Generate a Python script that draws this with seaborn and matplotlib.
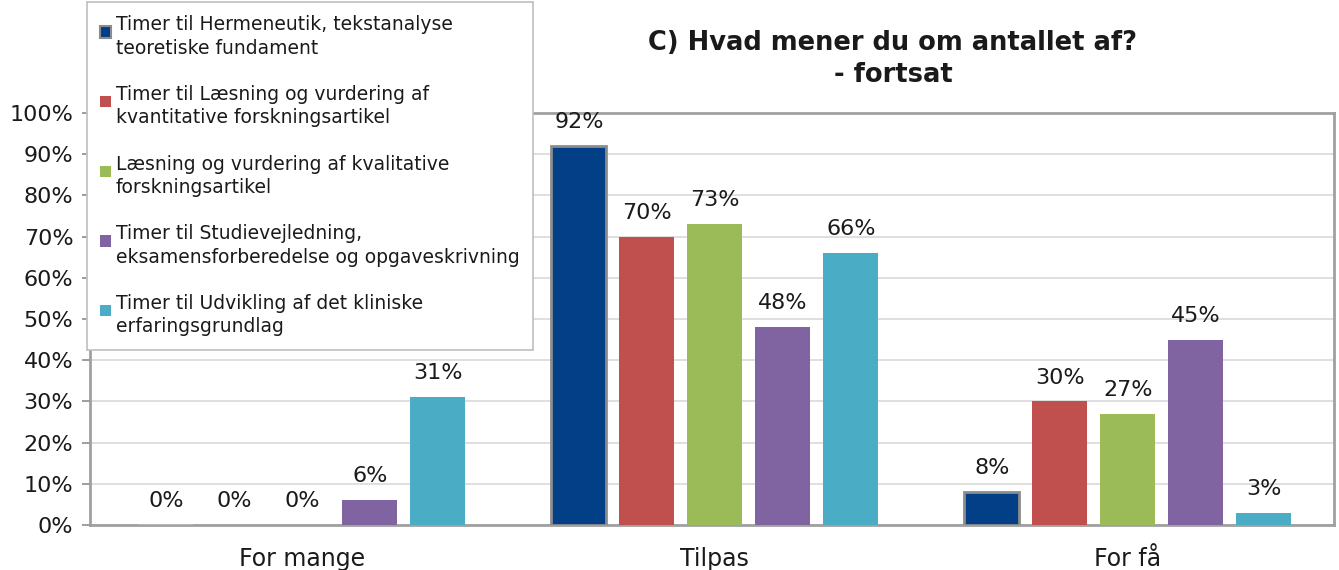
import matplotlib
matplotlib.use("Agg")
import matplotlib.pyplot as plt
from matplotlib.patches import Patch, Rectangle
from matplotlib.legend_handler import HandlerBase
import seaborn as sns
import pandas as pd

categories = ["For mange", "Tilpas", "For få"]
series = [
    "Timer til Hermeneutik, tekstanalyse\nteoretiske fundament",
    "Timer til Læsning og vurdering af\nkvantitative forskningsartikel",
    "Læsning og vurdering af kvalitative\nforskningsartikel",
    "Timer til Studievejledning,\neksamensforberedelse og opgaveskrivning",
    "Timer til Udvikling af det kliniske\nerfaringsgrundlag",
]
values = [
    [0, 92, 8],
    [0, 70, 30],
    [0, 73, 27],
    [6, 48, 45],
    [31, 66, 3],
]
colors = ["#023F87", "#C0504D", "#9BBB59", "#8064A2", "#4BACC6"]
yticks = [0, 10, 20, 30, 40, 50, 60, 70, 80, 90, 100]
title = "C) Hvad mener du om antallet af?\n- fortsat"

rows = []
for s, vals in zip(series, values):
    for c, v in zip(categories, vals):
        rows.append({"cat": c, "series": s, "val": v})
df = pd.DataFrame(rows)

sns.set_theme(style="white")
plt.rcParams["font.family"] = ["DejaVu Sans"]

fig = plt.figure(figsize=(13.39, 5.70), dpi=100)
ax = fig.add_axes([90/1339, 1-525/570, (1334-90)/1339, (525-113)/570])

sns.barplot(data=df, x="cat", y="val", hue="series", order=categories,
            hue_order=series, palette=colors, width=0.823, gap=0.19,
            saturation=1, legend=False, ax=ax, zorder=3)

for i, cont in enumerate(ax.containers):
    if i == 0:
        for p in cont:
            if p.get_height() > 0:
                p.set_edgecolor("#8C8C8C")
                p.set_linewidth(2)
    else:
        for p in cont:
            p.set_linewidth(0)
    ax.bar_label(cont, labels=[f"{int(round(v))}%" for v in cont.datavalues],
                 padding=10, fontsize=16, color="#1a1a1a")

ax.set_ylim(0, 100)
ax.set_xlim(-0.513, 2.499)
ax.set_yticks(yticks)
ax.set_yticklabels([f"{t}%" for t in yticks])
ax.set_xlabel("")
ax.set_ylabel("")
ax.tick_params(axis="y", labelsize=16, length=6, width=1.2, color="#8C8C8C",
               left=True, pad=6, labelcolor="#1a1a1a")
ax.tick_params(axis="x", labelsize=17, length=0, pad=16, labelcolor="#1a1a1a")
ax.yaxis.grid(True, color="#D9D9D9", linewidth=1.2, zorder=0)
ax.set_axisbelow(True)
for sp in ax.spines.values():
    sp.set_visible(True)
    sp.set_color("#A0A0A0")
    sp.set_linewidth(2)

fig.text(893/1339, 1-59/570, title, ha="center", va="center",
         fontsize=18.5, fontweight="bold", color="#1a1a1a", linespacing=1.35)


class TopSquare(HandlerBase):
    def create_artists(self, legend, orig_handle, xdescent, ydescent,
                       width, height, fontsize, trans):
        s = 0.6 * fontsize
        r = Rectangle((-xdescent, -ydescent + height - s - 0.3 * fontsize), s, s,
                      facecolor=orig_handle.get_facecolor(),
                      edgecolor=orig_handle.get_edgecolor(),
                      linewidth=orig_handle.get_linewidth(), transform=trans)
        return [r]


handles = []
for i, (s, c) in enumerate(zip(series, colors)):
    if i == 0:
        handles.append(Patch(facecolor=c, edgecolor="#8C8C8C", linewidth=1.5))
    else:
        handles.append(Patch(facecolor=c, edgecolor="none", linewidth=0))
leg = fig.legend(handles, series, loc="upper left",
                 bbox_to_anchor=(87/1339, 1-2/570), fontsize=13.5,
                 frameon=True, fancybox=False, edgecolor="#BFBFBF",
                 framealpha=1, labelspacing=1.45, handlelength=0.6,
                 handleheight=2.5, handletextpad=0.25, borderpad=0.7,
                 borderaxespad=0, handler_map={Patch: TopSquare()})
leg.get_frame().set_linewidth(1.2)
for t in leg.get_texts():
    t.set_color("#1a1a1a")
    t.set_linespacing(1.3)

fig.savefig("out.png", dpi=100)
